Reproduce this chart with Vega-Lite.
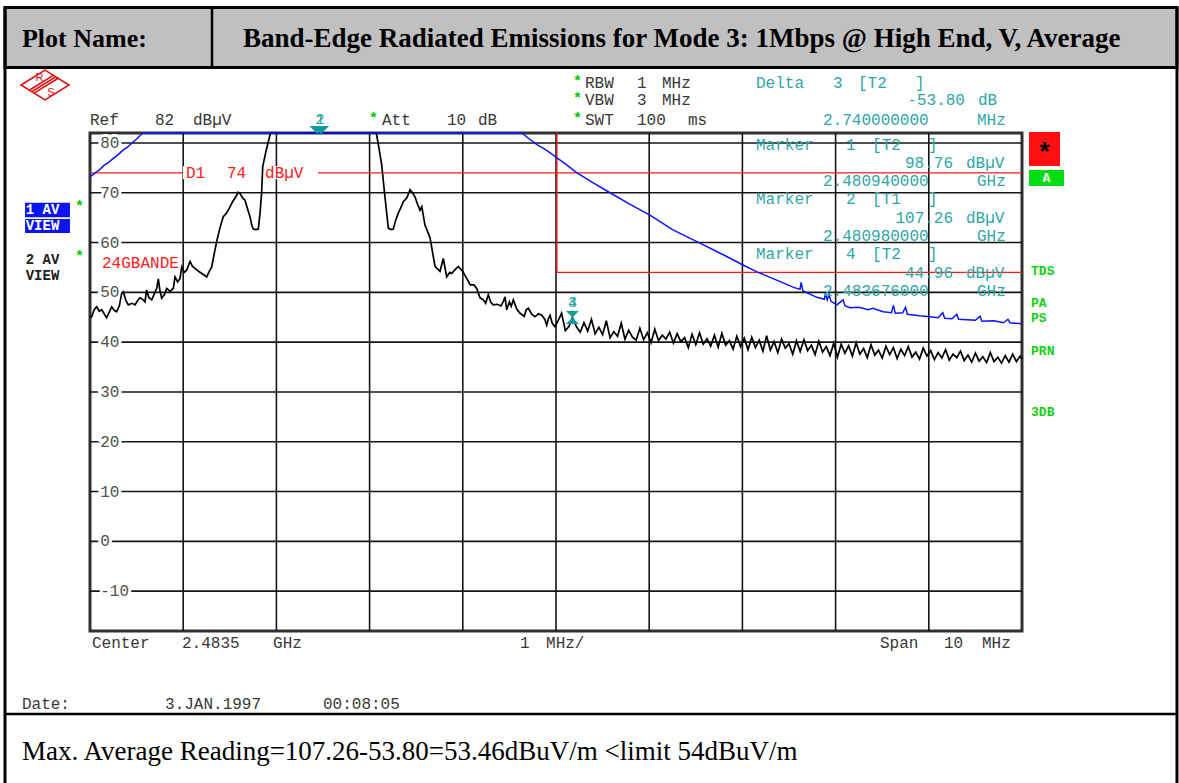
{
  "$schema": "https://vega.github.io/schema/vega-lite/v6.json",
  "width": 932,
  "height": 498,
  "autosize": {"type": "none"},
  "padding": {"left": 90, "top": 133, "right": 157, "bottom": 152},
  "background": "white",
  "config": {"view": {"stroke": "#303030", "strokeWidth": 3}, "axis": {"disable": true}},
  "datasets": {
    "one": [{}],
    "vgrid": [{"f": 2479.5}, {"f": 2480.5}, {"f": 2481.5}, {"f": 2482.5}, {"f": 2483.5}, {"f": 2484.5}, {"f": 2485.5}, {"f": 2486.5}, {"f": 2487.5}],
    "hgrid": [{"v": 80, "s": "80"}, {"v": 70, "s": "70"}, {"v": 60, "s": "60"}, {"v": 50, "s": "50"}, {"v": 40, "s": "40"}, {"v": 30, "s": "30"}, {"v": 20, "s": "20"}, {"v": 10, "s": "10"}, {"v": 0, "s": "0"}, {"v": -10, "s": "-10"}],
    "t1": [
      {"f": 2478.5, "v": 73.2}, {"f": 2478.55, "v": 73.9}, {"f": 2478.6, "v": 74.6}, {"f": 2478.65, "v": 75.5}, {"f": 2478.7, "v": 76.1},
      {"f": 2478.75, "v": 76.9}, {"f": 2478.8, "v": 77.6}, {"f": 2478.85, "v": 78.5}, {"f": 2478.9, "v": 79.1}, {"f": 2478.95, "v": 80.0},
      {"f": 2479.0, "v": 80.8}, {"f": 2479.05, "v": 81.7}, {"f": 2479.07, "v": 82}, {"f": 2483.135, "v": 82}, {"f": 2483.2, "v": 81.0},
      {"f": 2483.3, "v": 79.6}, {"f": 2483.4, "v": 78.5}, {"f": 2483.511, "v": 77.0}, {"f": 2483.6, "v": 75.8}, {"f": 2483.725, "v": 74.0},
      {"f": 2483.9, "v": 72.0}, {"f": 2484.079, "v": 70.0}, {"f": 2484.3, "v": 67.6}, {"f": 2484.508, "v": 65.5}, {"f": 2484.75, "v": 62.6},
      {"f": 2485.044, "v": 59.9}, {"f": 2485.3, "v": 57.5}, {"f": 2485.506, "v": 55.5}, {"f": 2485.657, "v": 54.1}, {"f": 2485.9, "v": 52.2},
      {"f": 2486.05, "v": 51.0}, {"f": 2486.118, "v": 50.6}, {"f": 2486.13, "v": 52.0}, {"f": 2486.15, "v": 50.3}, {"f": 2486.3, "v": 49.0},
      {"f": 2486.38, "v": 48.6}, {"f": 2486.39, "v": 49.9}, {"f": 2486.41, "v": 48.5}, {"f": 2486.43, "v": 49.6}, {"f": 2486.45, "v": 48.2},
      {"f": 2486.515, "v": 47.5}, {"f": 2486.58, "v": 48.5}, {"f": 2486.6, "v": 47.3}, {"f": 2486.655, "v": 46.9}, {"f": 2486.75, "v": 47.0},
      {"f": 2486.85, "v": 46.5}, {"f": 2486.9, "v": 46.8}, {"f": 2487.009, "v": 46.1}, {"f": 2487.1, "v": 45.9}, {"f": 2487.12, "v": 47.4},
      {"f": 2487.14, "v": 45.8}, {"f": 2487.22, "v": 45.9}, {"f": 2487.25, "v": 47.0}, {"f": 2487.27, "v": 45.6}, {"f": 2487.4, "v": 45.3},
      {"f": 2487.513, "v": 45.1}, {"f": 2487.6, "v": 44.9}, {"f": 2487.65, "v": 45.9}, {"f": 2487.67, "v": 44.8}, {"f": 2487.75, "v": 44.7},
      {"f": 2487.8, "v": 45.6}, {"f": 2487.82, "v": 44.6}, {"f": 2487.91, "v": 44.5}, {"f": 2488.0, "v": 44.4}, {"f": 2488.05, "v": 45.2},
      {"f": 2488.07, "v": 44.2}, {"f": 2488.2, "v": 44.3}, {"f": 2488.3, "v": 43.9}, {"f": 2488.35, "v": 44.6}, {"f": 2488.37, "v": 43.9},
      {"f": 2488.5, "v": 43.7}
    ],
    "t2": [
      {"f": 2478.5, "v": 45.0}, {"f": 2478.518, "v": 45.1}, {"f": 2478.545, "v": 46.5}, {"f": 2478.572, "v": 47.1}, {"f": 2478.6, "v": 46.2},
      {"f": 2478.626, "v": 46.5}, {"f": 2478.655, "v": 45.6}, {"f": 2478.679, "v": 44.9}, {"f": 2478.705, "v": 46.0}, {"f": 2478.733, "v": 47.1},
      {"f": 2478.76, "v": 46.4}, {"f": 2478.786, "v": 46.1}, {"f": 2478.815, "v": 47.3}, {"f": 2478.84, "v": 49.8}, {"f": 2478.857, "v": 50.1},
      {"f": 2478.885, "v": 48.4}, {"f": 2478.911, "v": 47.5}, {"f": 2478.95, "v": 47.8}, {"f": 2478.983, "v": 47.5}, {"f": 2479.01, "v": 48.3},
      {"f": 2479.036, "v": 48.9}, {"f": 2479.065, "v": 48.6}, {"f": 2479.09, "v": 48.1}, {"f": 2479.108, "v": 50.5}, {"f": 2479.13, "v": 49.0},
      {"f": 2479.162, "v": 48.5}, {"f": 2479.19, "v": 49.7}, {"f": 2479.216, "v": 50.8}, {"f": 2479.233, "v": 52.7}, {"f": 2479.25, "v": 50.4},
      {"f": 2479.269, "v": 48.8}, {"f": 2479.3, "v": 49.6}, {"f": 2479.323, "v": 50.8}, {"f": 2479.36, "v": 50.2}, {"f": 2479.394, "v": 50.8},
      {"f": 2479.412, "v": 53.1}, {"f": 2479.44, "v": 52.1}, {"f": 2479.466, "v": 52.8}, {"f": 2479.484, "v": 55.1}, {"f": 2479.51, "v": 54.0},
      {"f": 2479.538, "v": 54.5}, {"f": 2479.573, "v": 56.2}, {"f": 2479.6, "v": 55.2}, {"f": 2479.627, "v": 54.8}, {"f": 2479.66, "v": 54.3},
      {"f": 2479.7, "v": 53.8}, {"f": 2479.752, "v": 53.1}, {"f": 2479.78, "v": 54.2}, {"f": 2479.806, "v": 55.1}, {"f": 2479.83, "v": 57.5},
      {"f": 2479.859, "v": 60.2}, {"f": 2479.895, "v": 63.0}, {"f": 2479.93, "v": 65.2}, {"f": 2479.96, "v": 65.8}, {"f": 2479.984, "v": 66.5},
      {"f": 2480.03, "v": 68.2}, {"f": 2480.074, "v": 69.5}, {"f": 2480.09, "v": 70.1}, {"f": 2480.109, "v": 69.9}, {"f": 2480.135, "v": 69.0},
      {"f": 2480.163, "v": 68.5}, {"f": 2480.19, "v": 66.8}, {"f": 2480.217, "v": 65.2}, {"f": 2480.235, "v": 63.5}, {"f": 2480.252, "v": 62.7},
      {"f": 2480.28, "v": 62.6}, {"f": 2480.306, "v": 62.7}, {"f": 2480.325, "v": 66.0}, {"f": 2480.342, "v": 70.2}, {"f": 2480.353, "v": 75.2},
      {"f": 2480.39, "v": 78.5}, {"f": 2480.431, "v": 81.6}, {"f": 2480.44, "v": 82}, {"f": 2481.57, "v": 82}, {"f": 2481.576, "v": 81.6},
      {"f": 2481.6, "v": 79.0}, {"f": 2481.63, "v": 75.6}, {"f": 2481.66, "v": 70.0}, {"f": 2481.701, "v": 62.9}, {"f": 2481.73, "v": 62.6},
      {"f": 2481.754, "v": 62.7}, {"f": 2481.78, "v": 64.5}, {"f": 2481.808, "v": 65.9}, {"f": 2481.835, "v": 67.0}, {"f": 2481.862, "v": 68.2},
      {"f": 2481.9, "v": 69.0}, {"f": 2481.934, "v": 70.6}, {"f": 2481.96, "v": 70.0}, {"f": 2481.987, "v": 69.2}, {"f": 2482.01, "v": 67.9},
      {"f": 2482.041, "v": 66.5}, {"f": 2482.06, "v": 67.2}, {"f": 2482.094, "v": 63.5}, {"f": 2482.148, "v": 61.0}, {"f": 2482.202, "v": 55.2},
      {"f": 2482.255, "v": 54.2}, {"f": 2482.291, "v": 56.8}, {"f": 2482.327, "v": 53.1}, {"f": 2482.36, "v": 54.0}, {"f": 2482.381, "v": 53.8},
      {"f": 2482.42, "v": 54.6}, {"f": 2482.452, "v": 55.2}, {"f": 2482.5, "v": 54.2}, {"f": 2482.542, "v": 52.8}, {"f": 2482.58, "v": 51.5},
      {"f": 2482.62, "v": 51.5}, {"f": 2482.649, "v": 50.8}, {"f": 2482.685, "v": 48.9}, {"f": 2482.72, "v": 48.5}, {"f": 2482.745, "v": 47.8},
      {"f": 2482.774, "v": 49.5}, {"f": 2482.8, "v": 48.0}, {"f": 2482.827, "v": 47.5}, {"f": 2482.87, "v": 47.6}, {"f": 2482.91, "v": 47.3},
      {"f": 2482.935, "v": 48.2}, {"f": 2482.953, "v": 49.1}, {"f": 2482.971, "v": 46.5}, {"f": 2483.0, "v": 48.1}, {"f": 2483.02, "v": 47.2},
      {"f": 2483.042, "v": 48.5}, {"f": 2483.08, "v": 46.6}, {"f": 2483.114, "v": 45.8}, {"f": 2483.16, "v": 45.2}, {"f": 2483.18, "v": 46.5},
      {"f": 2483.203, "v": 46.8}, {"f": 2483.24, "v": 45.6}, {"f": 2483.275, "v": 45.1}, {"f": 2483.31, "v": 45.7}, {"f": 2483.346, "v": 45.4},
      {"f": 2483.38, "v": 44.6}, {"f": 2483.4, "v": 43.4}, {"f": 2483.42, "v": 44.8}, {"f": 2483.436, "v": 45.4}, {"f": 2483.46, "v": 43.8},
      {"f": 2483.489, "v": 43.1}, {"f": 2483.52, "v": 44.2}, {"f": 2483.56, "v": 45.8}, {"f": 2483.6, "v": 42.3}, {"f": 2483.64, "v": 43.2},
      {"f": 2483.676, "v": 44.96}, {"f": 2483.72, "v": 43.1}, {"f": 2483.76, "v": 42.0}, {"f": 2483.8, "v": 43.9}, {"f": 2483.84, "v": 42.2},
      {"f": 2483.88, "v": 44.6}, {"f": 2483.92, "v": 41.7}, {"f": 2483.96, "v": 43.0}, {"f": 2484.0, "v": 41.5}, {"f": 2484.04, "v": 44.3},
      {"f": 2484.08, "v": 40.9}, {"f": 2484.12, "v": 42.1}, {"f": 2484.16, "v": 41.2}, {"f": 2484.2, "v": 43.8}, {"f": 2484.24, "v": 40.6},
      {"f": 2484.28, "v": 42.4}, {"f": 2484.32, "v": 41.0}, {"f": 2484.36, "v": 40.4}, {"f": 2484.4, "v": 42.8}, {"f": 2484.44, "v": 40.5},
      {"f": 2484.48, "v": 41.9}, {"f": 2484.52, "v": 39.9}, {"f": 2484.56, "v": 42.6}, {"f": 2484.6, "v": 40.3}, {"f": 2484.64, "v": 41.4},
      {"f": 2484.68, "v": 40.6}, {"f": 2484.72, "v": 42.0}, {"f": 2484.76, "v": 39.8}, {"f": 2484.8, "v": 41.7}, {"f": 2484.84, "v": 40.1},
      {"f": 2484.88, "v": 40.9}, {"f": 2484.92, "v": 38.9}, {"f": 2484.96, "v": 41.6}, {"f": 2485.0, "v": 39.5}, {"f": 2485.04, "v": 41.9},
      {"f": 2485.08, "v": 39.6}, {"f": 2485.12, "v": 40.7}, {"f": 2485.16, "v": 39.2}, {"f": 2485.2, "v": 41.4}, {"f": 2485.24, "v": 39.0},
      {"f": 2485.28, "v": 41.8}, {"f": 2485.32, "v": 39.4}, {"f": 2485.36, "v": 40.3}, {"f": 2485.4, "v": 38.6}, {"f": 2485.44, "v": 41.2},
      {"f": 2485.48, "v": 39.1}, {"f": 2485.52, "v": 40.8}, {"f": 2485.56, "v": 38.5}, {"f": 2485.6, "v": 41.0}, {"f": 2485.64, "v": 38.9},
      {"f": 2485.68, "v": 40.4}, {"f": 2485.72, "v": 38.2}, {"f": 2485.76, "v": 41.3}, {"f": 2485.8, "v": 38.4}, {"f": 2485.84, "v": 40.1},
      {"f": 2485.88, "v": 37.9}, {"f": 2485.92, "v": 40.6}, {"f": 2485.96, "v": 38.8}, {"f": 2486.0, "v": 39.7}, {"f": 2486.04, "v": 37.6},
      {"f": 2486.08, "v": 40.3}, {"f": 2486.12, "v": 38.1}, {"f": 2486.16, "v": 40.5}, {"f": 2486.2, "v": 38.3}, {"f": 2486.24, "v": 39.4},
      {"f": 2486.28, "v": 37.5}, {"f": 2486.32, "v": 40.2}, {"f": 2486.36, "v": 38.0}, {"f": 2486.4, "v": 39.1}, {"f": 2486.44, "v": 37.3},
      {"f": 2486.48, "v": 39.8}, {"f": 2486.52, "v": 37.0}, {"f": 2486.56, "v": 39.6}, {"f": 2486.6, "v": 37.8}, {"f": 2486.64, "v": 39.3},
      {"f": 2486.68, "v": 37.2}, {"f": 2486.72, "v": 39.9}, {"f": 2486.76, "v": 37.6}, {"f": 2486.8, "v": 38.7}, {"f": 2486.84, "v": 36.9},
      {"f": 2486.88, "v": 39.5}, {"f": 2486.92, "v": 37.4}, {"f": 2486.96, "v": 38.4}, {"f": 2487.0, "v": 36.8}, {"f": 2487.04, "v": 39.2},
      {"f": 2487.08, "v": 37.5}, {"f": 2487.12, "v": 38.9}, {"f": 2487.16, "v": 36.7}, {"f": 2487.2, "v": 38.6}, {"f": 2487.24, "v": 37.3},
      {"f": 2487.28, "v": 39.1}, {"f": 2487.32, "v": 37.0}, {"f": 2487.36, "v": 38.0}, {"f": 2487.4, "v": 36.6}, {"f": 2487.44, "v": 38.8},
      {"f": 2487.48, "v": 37.2}, {"f": 2487.52, "v": 38.3}, {"f": 2487.56, "v": 36.5}, {"f": 2487.6, "v": 37.9}, {"f": 2487.64, "v": 36.8},
      {"f": 2487.68, "v": 38.5}, {"f": 2487.72, "v": 36.4}, {"f": 2487.76, "v": 37.6}, {"f": 2487.8, "v": 36.9}, {"f": 2487.84, "v": 38.2},
      {"f": 2487.88, "v": 36.3}, {"f": 2487.92, "v": 37.4}, {"f": 2487.96, "v": 36.0}, {"f": 2488.0, "v": 37.8}, {"f": 2488.04, "v": 36.2},
      {"f": 2488.08, "v": 37.1}, {"f": 2488.12, "v": 35.9}, {"f": 2488.16, "v": 37.9}, {"f": 2488.2, "v": 36.1}, {"f": 2488.24, "v": 37.0},
      {"f": 2488.28, "v": 35.8}, {"f": 2488.32, "v": 37.3}, {"f": 2488.36, "v": 36.0}, {"f": 2488.4, "v": 37.6}, {"f": 2488.44, "v": 36.1},
      {"f": 2488.48, "v": 37.2}, {"f": 2488.5, "v": 36.6}
    ],
    "tealL": [
      {"s": "Delta", "f": 2485.646, "v": 92.1}, {"s": "3", "f": 2486.472, "v": 92.1}, {"s": "[T2", "f": 2486.74, "v": 92.1}, {"s": "]", "f": 2487.352, "v": 92.1},
      {"s": "dB", "f": 2488.028, "v": 88.53},
      {"s": "2.740000000", "f": 2486.365, "v": 84.71}, {"s": "MHz", "f": 2488.017, "v": 84.71},
      {"s": "Marker", "f": 2485.646, "v": 79.59}, {"s": "1", "f": 2486.612, "v": 79.59}, {"s": "[T2", "f": 2486.891, "v": 79.59}, {"s": "]", "f": 2487.491, "v": 79.59},
      {"s": "dBµV", "f": 2487.899, "v": 75.98},
      {"s": "2.480940000", "f": 2486.365, "v": 72.36}, {"s": "GHz", "f": 2488.017, "v": 72.36},
      {"s": "Marker", "f": 2485.646, "v": 68.75}, {"s": "2", "f": 2486.612, "v": 68.75}, {"s": "[T1", "f": 2486.891, "v": 68.75}, {"s": "]", "f": 2487.491, "v": 68.75},
      {"s": "dBµV", "f": 2487.899, "v": 64.93},
      {"s": "2.480980000", "f": 2486.365, "v": 61.32}, {"s": "GHz", "f": 2488.017, "v": 61.32},
      {"s": "Marker", "f": 2485.646, "v": 57.7}, {"s": "4", "f": 2486.612, "v": 57.7}, {"s": "[T2", "f": 2486.891, "v": 57.7}, {"s": "]", "f": 2487.491, "v": 57.7},
      {"s": "dBµV", "f": 2487.899, "v": 53.89},
      {"s": "2.483676000", "f": 2486.365, "v": 50.27}, {"s": "GHz", "f": 2488.017, "v": 50.27}
    ],
    "tealR": [
      {"s": "-53.80", "f": 2487.888, "v": 88.53},
      {"s": "98.76", "f": 2487.76, "v": 75.98},
      {"s": "107.26", "f": 2487.76, "v": 64.93},
      {"s": "44.96", "f": 2487.76, "v": 53.89}
    ],
    "blackTxt": [
      {"s": "Ref", "f": 2478.5, "v": 84.71}, {"s": "82", "f": 2479.197, "v": 84.71}, {"s": "dBµV", "f": 2479.605, "v": 84.71},
      {"s": "Att", "f": 2481.633, "v": 84.71}, {"s": "10", "f": 2482.33, "v": 84.71}, {"s": "dB", "f": 2482.663, "v": 84.71},
      {"s": "RBW", "f": 2483.811, "v": 92.1}, {"s": "1", "f": 2484.369, "v": 92.1}, {"s": "MHz", "f": 2484.637, "v": 92.1},
      {"s": "VBW", "f": 2483.811, "v": 88.53}, {"s": "3", "f": 2484.369, "v": 88.53}, {"s": "MHz", "f": 2484.637, "v": 88.53},
      {"s": "SWT", "f": 2483.811, "v": 84.71}, {"s": "100", "f": 2484.369, "v": 84.71}, {"s": "ms", "f": 2484.916, "v": 84.71},
      {"s": "Center", "f": 2478.521, "v": -20.41}, {"s": "2.4835", "f": 2479.487, "v": -20.41}, {"s": "GHz", "f": 2480.464, "v": -20.41},
      {"s": "1", "f": 2483.114, "v": -20.41}, {"s": "MHz/", "f": 2483.393, "v": -20.41},
      {"s": "Span", "f": 2486.976, "v": -20.41}, {"s": "10", "f": 2487.663, "v": -20.41}, {"s": "MHz", "f": 2488.071, "v": -20.41},
      {"s": "Date:", "f": 2477.77, "v": -32.66}, {"s": "3.JAN.1997", "f": 2479.305, "v": -32.66}, {"s": "00:08:05", "f": 2481.0, "v": -32.66}
    ],
    "stars": [
      {"f": 2483.682, "v": 92.1}, {"f": 2483.682, "v": 88.53}, {"f": 2483.682, "v": 84.71}, {"f": 2481.494, "v": 84.71},
      {"f": 2478.339, "v": 66.94}, {"f": 2478.339, "v": 56.9}
    ],
    "redTxt": [
      {"s": "D1", "f": 2479.53, "v": 74}, {"s": "74", "f": 2479.97, "v": 74}, {"s": "dBµV", "f": 2480.378, "v": 74},
      {"s": "24GBANDE", "f": 2478.629, "v": 55.9}
    ],
    "markerNum": [
      {"s": "1", "f": 2480.968, "v": 84.81}, {"s": "2", "f": 2480.968, "v": 84.81},
      {"s": "3", "f": 2483.676, "v": 48.06}, {"s": "4", "f": 2483.676, "v": 48.06}
    ],
    "markerTop": [{"marker": "1", "f": 2480.94}, {"marker": "2", "f": 2480.98}],
    "marker4": [{"marker": "4", "f": 2483.676, "v": 44.96}],
    "avWhite": [{"s": "1 AV", "v": 66.54}, {"s": "VIEW", "v": 63.33}],
    "avBlack": [{"s": "2 AV", "v": 56.5}, {"s": "VIEW", "v": 53.29}],
    "status": [
      {"s": "TDS", "v": 54.35}, {"s": "PA", "v": 47.92}, {"s": "PS", "v": 44.91}, {"s": "PRN", "v": 38.29}, {"s": "3DB", "v": 26.04}
    ],
    "headerLabel": [{"s": "Plot Name:"}],
    "headerTitle": [{"s": "Band-Edge Radiated Emissions  for Mode 3: 1Mbps @ High End, V, Average"}],
    "footer": [{"s": "Max. Average Reading=107.26-53.80=53.46dBuV/m <limit 54dBuV/m"}]
  },
  "layer": [
    {
      "data": {"name": "one"},
      "mark": {"type": "rect", "fill": "#c0c0c0", "stroke": "#000000", "strokeWidth": 3},
      "encoding": {
        "x": {"datum": 2477.588, "type": "quantitative", "scale": {"domain": [2478.5, 2488.5], "nice": false, "zero": false}, "axis": null},
        "x2": {"datum": 2490.163},
        "y": {"datum": 107.2, "type": "quantitative", "scale": {"domain": [-18, 82], "nice": false, "zero": false}, "axis": null},
        "y2": {"datum": 95.15}
      }
    },
    {
      "data": {"name": "one"},
      "mark": {"type": "rule", "color": "#000000", "strokeWidth": 2.5},
      "encoding": {
        "x": {"datum": 2479.809, "type": "quantitative"},
        "y": {"datum": 107.2, "type": "quantitative"},
        "y2": {"datum": 95.15}
      }
    },
    {
      "data": {"name": "one"},
      "mark": {"type": "rule", "color": "#000000", "strokeWidth": 3},
      "encoding": {
        "x": {"datum": 2477.588, "type": "quantitative"},
        "y": {"datum": 107.2, "type": "quantitative"},
        "y2": {"datum": -48.52}
      }
    },
    {
      "data": {"name": "one"},
      "mark": {"type": "rule", "color": "#000000", "strokeWidth": 3},
      "encoding": {
        "x": {"datum": 2490.163, "type": "quantitative"},
        "y": {"datum": 107.2, "type": "quantitative"},
        "y2": {"datum": -48.52}
      }
    },
    {
      "data": {"name": "one"},
      "mark": {"type": "rule", "color": "#000000", "strokeWidth": 2.5},
      "encoding": {
        "x": {"datum": 2477.588, "type": "quantitative"},
        "x2": {"datum": 2490.163},
        "y": {"datum": -34.67, "type": "quantitative"}
      }
    },
    {
      "data": {"name": "vgrid"},
      "mark": {"type": "rule", "color": "#151515", "strokeWidth": 1.6},
      "encoding": {"x": {"field": "f", "type": "quantitative"}}
    },
    {
      "data": {"name": "hgrid"},
      "mark": {"type": "rule", "color": "#151515", "strokeWidth": 1.6},
      "encoding": {"y": {"field": "v", "type": "quantitative"}}
    },
    {
      "data": {"name": "one"},
      "mark": {"type": "rule", "color": "#ff1a1a", "strokeWidth": 1.3},
      "encoding": {"y": {"datum": 74, "type": "quantitative"}}
    },
    {
      "data": {"name": "one"},
      "mark": {"type": "rule", "color": "#ff1a1a", "strokeWidth": 1.3},
      "encoding": {
        "x": {"datum": 2483.5, "type": "quantitative"},
        "x2": {"datum": 2488.5},
        "y": {"datum": 54, "type": "quantitative"}
      }
    },
    {
      "data": {"name": "one"},
      "mark": {"type": "rule", "color": "#ff1a1a", "strokeWidth": 1.3},
      "encoding": {
        "x": {"datum": 2483.51, "type": "quantitative"},
        "y": {"datum": 82, "type": "quantitative"},
        "y2": {"datum": 54}
      }
    },
    {
      "data": {"name": "hgrid"},
      "mark": {"type": "text", "align": "left", "baseline": "middle", "font": "Liberation Mono", "fontSize": 16, "fill": "white", "stroke": "white", "strokeWidth": 6},
      "encoding": {
        "x": {"datum": 2478.61, "type": "quantitative"},
        "y": {"field": "v", "type": "quantitative"},
        "text": {"field": "s"}
      }
    },
    {
      "data": {"name": "one"},
      "mark": {"type": "rect", "fill": "white"},
      "encoding": {
        "x": {"datum": 2479.498, "type": "quantitative"},
        "x2": {"datum": 2480.946},
        "y": {"datum": 75.3, "type": "quantitative"},
        "y2": {"datum": 72.7}
      }
    },
    {
      "data": {"name": "hgrid"},
      "mark": {"type": "text", "align": "left", "baseline": "middle", "font": "Liberation Mono", "fontSize": 16, "fill": "#505050"},
      "encoding": {
        "x": {"datum": 2478.61, "type": "quantitative"},
        "y": {"field": "v", "type": "quantitative"},
        "text": {"field": "s"}
      }
    },
    {
      "data": {"name": "redTxt"},
      "mark": {"type": "text", "align": "left", "baseline": "middle", "font": "Liberation Mono", "fontSize": 16, "fill": "#ff2020"},
      "encoding": {
        "x": {"field": "f", "type": "quantitative"},
        "y": {"field": "v", "type": "quantitative"},
        "text": {"field": "s"}
      }
    },
    {
      "data": {"name": "t2"},
      "mark": {"type": "line", "color": "#000000", "strokeWidth": 1.7},
      "encoding": {
        "x": {"field": "f", "type": "quantitative"},
        "y": {"field": "v", "type": "quantitative"}
      }
    },
    {
      "data": {"name": "t1"},
      "mark": {"type": "line", "color": "#0a14ff", "strokeWidth": 1.5},
      "encoding": {
        "x": {"field": "f", "type": "quantitative"},
        "y": {"field": "v", "type": "quantitative"}
      }
    },
    {
      "data": {"name": "tealL"},
      "mark": {"type": "text", "align": "left", "baseline": "middle", "font": "Liberation Mono", "fontSize": 16, "fill": "#2fa6a6"},
      "encoding": {
        "x": {"field": "f", "type": "quantitative"},
        "y": {"field": "v", "type": "quantitative"},
        "text": {"field": "s"}
      }
    },
    {
      "data": {"name": "tealR"},
      "mark": {"type": "text", "align": "right", "baseline": "middle", "font": "Liberation Mono", "fontSize": 16, "fill": "#2fa6a6"},
      "encoding": {
        "x": {"field": "f", "type": "quantitative"},
        "y": {"field": "v", "type": "quantitative"},
        "text": {"field": "s"}
      }
    },
    {
      "data": {"name": "blackTxt"},
      "mark": {"type": "text", "align": "left", "baseline": "middle", "font": "Liberation Mono", "fontSize": 16, "fill": "#383838"},
      "encoding": {
        "x": {"field": "f", "type": "quantitative"},
        "y": {"field": "v", "type": "quantitative"},
        "text": {"field": "s"}
      }
    },
    {
      "data": {"name": "stars"},
      "mark": {"type": "text", "align": "left", "baseline": "middle", "font": "Liberation Mono", "fontSize": 15, "fontWeight": "bold", "fill": "#00c800", "dy": -2, "text": "*"},
      "encoding": {
        "x": {"field": "f", "type": "quantitative"},
        "y": {"field": "v", "type": "quantitative"}
      }
    },
    {
      "data": {"name": "markerNum"},
      "mark": {"type": "text", "align": "center", "baseline": "middle", "font": "Liberation Mono", "fontSize": 15, "fill": "#2fa6a6"},
      "encoding": {
        "x": {"field": "f", "type": "quantitative"},
        "y": {"field": "v", "type": "quantitative"},
        "text": {"field": "s"}
      }
    },
    {
      "data": {"name": "markerTop"},
      "mark": {"type": "point", "shape": "M -1 -0.5 L 1 -0.5 L 0 0.5 Z", "size": 256, "filled": true, "fill": "#119a9a", "opacity": 1, "strokeWidth": 0},
      "encoding": {
        "x": {"field": "f", "type": "quantitative"},
        "y": {"datum": 82.6, "type": "quantitative"}
      }
    },
    {
      "data": {"name": "marker4"},
      "mark": {"type": "point", "shape": "M -1 -1 L 1 -1 L 0 0 Z M -1 1 L 1 1 L 0 0 Z", "size": 169, "filled": true, "fill": "#119a9a", "opacity": 1, "strokeWidth": 0},
      "encoding": {
        "x": {"field": "f", "type": "quantitative"},
        "y": {"field": "v", "type": "quantitative"}
      }
    },
    {
      "data": {"name": "one"},
      "mark": {"type": "point", "shape": "M -1 0 L 0 -0.62 L 1 0 L 0 0.62 Z M -0.62 0.2 L 0.38 -0.42 M -0.52 0.26 L 0.48 -0.36 M -0.42 0.32 L 0.58 -0.3", "size": 2304, "filled": false, "stroke": "#e01010", "strokeWidth": 1.6, "opacity": 1},
      "encoding": {
        "x": {"datum": 2478.017, "type": "quantitative"},
        "y": {"datum": 91.64, "type": "quantitative"}
      }
    },
    {
      "data": {"name": "one"},
      "mark": {"type": "text", "align": "center", "baseline": "middle", "font": "Liberation Sans", "fontSize": 11, "fill": "#e01010", "text": "R"},
      "encoding": {
        "x": {"datum": 2477.958, "type": "quantitative"},
        "y": {"datum": 93.0, "type": "quantitative"}
      }
    },
    {
      "data": {"name": "one"},
      "mark": {"type": "text", "align": "center", "baseline": "middle", "font": "Liberation Sans", "fontSize": 11, "fill": "#e01010", "text": "S"},
      "encoding": {
        "x": {"datum": 2478.08, "type": "quantitative"},
        "y": {"datum": 90.1, "type": "quantitative"}
      }
    },
    {
      "data": {"name": "one"},
      "mark": {"type": "rect", "fill": "#0a14f0"},
      "encoding": {
        "x": {"datum": 2477.803, "type": "quantitative"},
        "x2": {"datum": 2478.285},
        "y": {"datum": 68.0, "type": "quantitative"},
        "y2": {"datum": 65.07}
      }
    },
    {
      "data": {"name": "one"},
      "mark": {"type": "rect", "fill": "#0a14f0"},
      "encoding": {
        "x": {"datum": 2477.803, "type": "quantitative"},
        "x2": {"datum": 2478.285},
        "y": {"datum": 64.73, "type": "quantitative"},
        "y2": {"datum": 61.92}
      }
    },
    {
      "data": {"name": "avWhite"},
      "mark": {"type": "text", "align": "left", "baseline": "middle", "font": "Liberation Mono", "fontSize": 14, "fontWeight": "bold", "fill": "white"},
      "encoding": {
        "x": {"datum": 2477.81, "type": "quantitative"},
        "y": {"field": "v", "type": "quantitative"},
        "text": {"field": "s"}
      }
    },
    {
      "data": {"name": "avBlack"},
      "mark": {"type": "text", "align": "left", "baseline": "middle", "font": "Liberation Mono", "fontSize": 14, "fontWeight": "bold", "fill": "#202020"},
      "encoding": {
        "x": {"datum": 2477.81, "type": "quantitative"},
        "y": {"field": "v", "type": "quantitative"},
        "text": {"field": "s"}
      }
    },
    {
      "data": {"name": "one"},
      "mark": {"type": "rect", "fill": "#ff1010"},
      "encoding": {
        "x": {"datum": 2488.575, "type": "quantitative"},
        "x2": {"datum": 2488.908},
        "y": {"datum": 82.2, "type": "quantitative"},
        "y2": {"datum": 75.37}
      }
    },
    {
      "data": {"name": "one"},
      "mark": {"type": "text", "align": "center", "baseline": "middle", "font": "Liberation Mono", "fontSize": 26, "fontWeight": "bold", "fill": "#000000", "text": "*", "dy": 4},
      "encoding": {
        "x": {"datum": 2488.742, "type": "quantitative"},
        "y": {"datum": 78.79, "type": "quantitative"}
      }
    },
    {
      "data": {"name": "one"},
      "mark": {"type": "rect", "fill": "#00dd10"},
      "encoding": {
        "x": {"datum": 2488.575, "type": "quantitative"},
        "x2": {"datum": 2488.951},
        "y": {"datum": 74.57, "type": "quantitative"},
        "y2": {"datum": 71.36}
      }
    },
    {
      "data": {"name": "one"},
      "mark": {"type": "text", "align": "center", "baseline": "middle", "font": "Liberation Mono", "fontSize": 13, "fontWeight": "bold", "fill": "white", "text": "A"},
      "encoding": {
        "x": {"datum": 2488.763, "type": "quantitative"},
        "y": {"datum": 72.96, "type": "quantitative"}
      }
    },
    {
      "data": {"name": "status"},
      "mark": {"type": "text", "align": "left", "baseline": "middle", "font": "Liberation Mono", "fontSize": 13, "fontWeight": "bold", "fill": "#10d010"},
      "encoding": {
        "x": {"datum": 2488.597, "type": "quantitative"},
        "y": {"field": "v", "type": "quantitative"},
        "text": {"field": "s"}
      }
    },
    {
      "data": {"name": "headerLabel"},
      "mark": {"type": "text", "align": "left", "baseline": "middle", "font": "Liberation Serif", "fontSize": 26, "fontWeight": "bold", "fill": "#000000"},
      "encoding": {
        "x": {"datum": 2477.77, "type": "quantitative"},
        "y": {"datum": 100.88, "type": "quantitative"},
        "text": {"field": "s"}
      }
    },
    {
      "data": {"name": "headerTitle"},
      "mark": {"type": "text", "align": "left", "baseline": "middle", "font": "Liberation Serif", "fontSize": 27, "fontWeight": "bold", "fill": "#000000"},
      "encoding": {
        "x": {"datum": 2480.142, "type": "quantitative"},
        "y": {"datum": 100.88, "type": "quantitative"},
        "text": {"field": "s"}
      }
    },
    {
      "data": {"name": "footer"},
      "mark": {"type": "text", "align": "left", "baseline": "middle", "font": "Liberation Serif", "fontSize": 27, "fill": "#000000"},
      "encoding": {
        "x": {"datum": 2477.77, "type": "quantitative"},
        "y": {"datum": -42.3, "type": "quantitative"},
        "text": {"field": "s"}
      }
    }
  ]
}
